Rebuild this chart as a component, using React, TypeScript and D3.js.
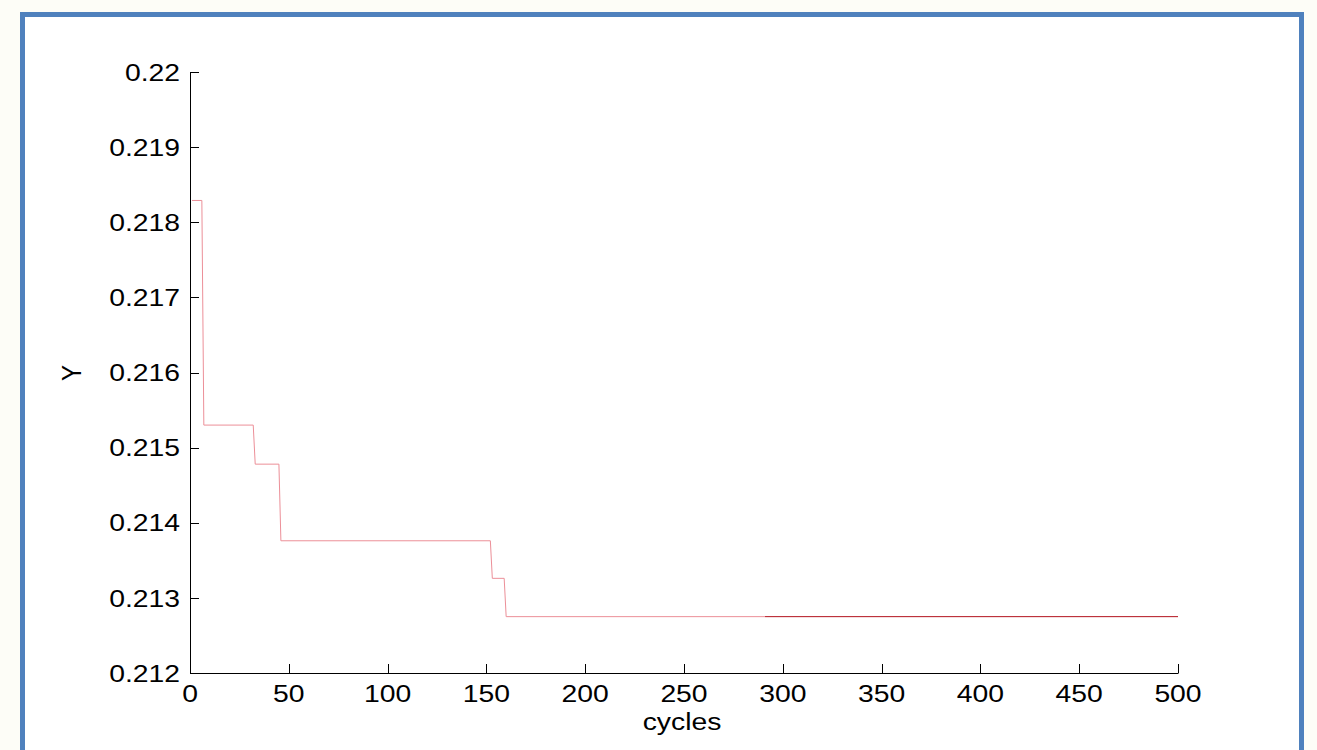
import React, { useEffect, useRef } from 'react';
import * as d3 from 'd3';

// cycle numbers where the best value changes
const earlyCycles = [1, 6, 7, 32, 33, 45, 46, 152, 153, 159, 160, 291];
const earlyValues = [0.21829, 0.21829, 0.2153, 0.2153, 0.21478, 0.21478, 0.21376, 0.21376, 0.21326, 0.21326, 0.21275, 0.21275];
const lateCycles = [291, 500];
const lateValues = [0.21275, 0.21275];

const xTicks = [0, 50, 100, 150, 200, 250, 300, 350, 400, 450, 500];
const yTicks = [0.212, 0.213, 0.214, 0.215, 0.216, 0.217, 0.218, 0.219, 0.22];

const App = () => {
  const ref = useRef<SVGSVGElement | null>(null);

  useEffect(() => {
    if (!ref.current) return;
    const width = 1317;
    const height = 750;
    const left = 190, right = 1178, top = 72, bottom = 673;
    const stretch = 1.18; // the labels in the picture are wider than they are tall
    const font = '"Liberation Sans", Arial, sans-serif';
    const fs = '24px';

    const svg = d3.select(ref.current);
    svg.selectAll('*').remove();
    svg.attr('width', width).attr('height', height);

    svg.append('rect').attr('width', width).attr('height', height).style('fill', '#fdfdf7');
    // blue frame
    svg.append('rect')
      .attr('x', 22.5).attr('y', 14.5)
      .attr('width', 1279).attr('height', 760)
      .style('fill', '#ffffff')
      .style('stroke', '#4f81bd')
      .style('stroke-width', 5);

    const x = d3.scaleLinear().domain([0, 500]).range([left, right]);
    const y = d3.scaleLinear().domain([0.212, 0.22]).range([bottom, top]);

    // axes
    const g = svg.append('g');
    g.append('line')
      .attr('x1', left + 0.5).attr('x2', left + 0.5)
      .attr('y1', top).attr('y2', bottom + 0.5)
      .style('stroke', '#000').style('stroke-width', 1);
    g.append('line')
      .attr('x1', left).attr('x2', right + 0.5)
      .attr('y1', bottom + 0.5).attr('y2', bottom + 0.5)
      .style('stroke', '#000').style('stroke-width', 1);

    g.selectAll('.ytick')
      .data(yTicks)
      .enter().append('line')
      .attr('class', 'ytick')
      .attr('x1', left).attr('x2', left + 9)
      .attr('y1', d => Math.round(y(d)) + 0.5)
      .attr('y2', d => Math.round(y(d)) + 0.5)
      .style('stroke', '#000');

    g.selectAll('.xtick')
      .data(xTicks)
      .enter().append('line')
      .attr('class', 'xtick')
      .attr('x1', d => Math.round(x(d)) + 0.5)
      .attr('x2', d => Math.round(x(d)) + 0.5)
      .attr('y1', bottom).attr('y2', bottom - 9)
      .style('stroke', '#000');

    g.selectAll('.ylabel')
      .data(yTicks)
      .enter().append('text')
      .attr('class', 'ylabel')
      .attr('transform', d => `translate(180,${y(d)}) scale(${stretch},1)`)
      .attr('dy', '0.36em')
      .attr('text-anchor', 'end')
      .style('font-family', font)
      .style('font-size', fs)
      .text(d => String(+d.toFixed(3)));

    g.selectAll('.xlabel')
      .data(xTicks)
      .enter().append('text')
      .attr('class', 'xlabel')
      .attr('transform', d => `translate(${x(d)},702) scale(${stretch},1)`)
      .attr('text-anchor', 'middle')
      .style('font-family', font)
      .style('font-size', fs)
      .text(d => String(d));

    g.append('text')
      .attr('transform', `translate(682,730) scale(${stretch},1)`)
      .attr('text-anchor', 'middle')
      .style('font-family', font)
      .style('font-size', fs)
      .text('cycles');

    g.append('text')
      .attr('transform', `translate(81,373) rotate(-90) scale(1,${stretch})`)
      .attr('text-anchor', 'middle')
      .style('font-family', font)
      .style('font-size', fs)
      .text('Y');

    const line = d3.line<[number, number]>()
      .x(d => x(d[0]))
      .y(d => y(d[1]));

    svg.append('path')
      .attr('d', line(earlyCycles.map((c, i) => [c, earlyValues[i]] as [number, number])))
      .style('fill', 'none')
      .style('stroke', '#ec8f98')
      .style('stroke-width', 1);

    svg.append('path')
      .attr('d', line(lateCycles.map((c, i) => [c, lateValues[i]] as [number, number])))
      .style('fill', 'none')
      .style('stroke', '#b3121d')
      .style('stroke-width', 1);
  }, []);

  return <svg ref={ref} style={{ position: 'absolute', left: 0, top: 0 }}></svg>;
};

export default App;
